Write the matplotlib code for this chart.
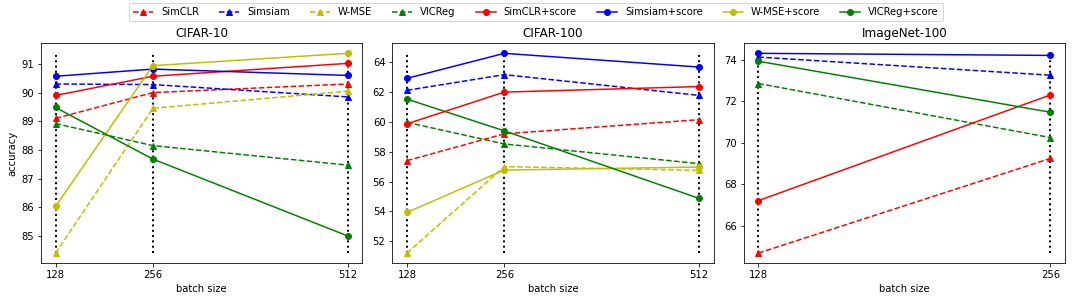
import numpy as np
from matplotlib import pyplot as plt

methods = ['SimCLR', 'Simsiam', 'W-MSE', 'VICReg']
colors = ['r', 'b', 'y', 'g']

batch_c10 = [128, 256, 512]
c10_base = {
    'SimCLR': [89.1, 90.0, 90.3],
    'Simsiam': [90.3, 90.28, 89.85],
    'W-MSE': [84.4, 89.45, 90.05],
    'VICReg': [88.92, 88.15, 87.47],
}
c10_score = {
    'SimCLR': [89.9, 90.57, 91.02],
    'Simsiam': [90.57, 90.82, 90.6],
    'W-MSE': [86.03, 90.94, 91.37],
    'VICReg': [89.48, 87.68, 85.0],
}

batch_c100 = [128, 256, 512]
c100_base = {
    'SimCLR': [57.4, 59.2, 60.15],
    'Simsiam': [62.12, 63.17, 61.78],
    'W-MSE': [51.2, 57.0, 56.75],
    'VICReg': [59.97, 58.52, 57.2],
}
c100_score = {
    'SimCLR': [59.87, 62.0, 62.37],
    'Simsiam': [62.92, 64.6, 63.68],
    'W-MSE': [53.93, 56.77, 56.97],
    'VICReg': [61.53, 59.4, 54.87],
}

batch_in100 = [128, 256]
in100_base = {
    'SimCLR': [64.7, 69.25],
    'Simsiam': [74.12, 73.25],
    'VICReg': [72.85, 70.25],
}
in100_score = {
    'SimCLR': [67.22, 72.3],
    'Simsiam': [74.3, 74.2],
    'VICReg': [73.92, 71.47],
}

panels = [
    ('CIFAR-10', batch_c10, c10_base, c10_score),
    ('CIFAR-100', batch_c100, c100_base, c100_score),
    ('ImageNet-100', batch_in100, in100_base, in100_score),
]

fig, axes = plt.subplots(1, 3, figsize=(1072 / 72, 301 / 72), dpi=72)

for ax, (title, bs, base, score) in zip(axes, panels):
    allv = [v for d in (base, score) for vals in d.values() for v in vals]
    ax.vlines(bs, min(allv), max(allv), colors='k', linestyles='dotted', linewidth=2)
    for m, c in zip(methods, colors):
        if m in base:
            ax.plot(bs, base[m], '--^', color=c, label=m)
    for m, c in zip(methods, colors):
        if m in score:
            ax.plot(bs, score[m], '-o', color=c, label=m + '+score')
    ax.set_xticks(bs)
    ax.set_title(title)
    ax.set_xlabel('batch size')

axes[0].set_ylabel('accuracy')

handles, labels = axes[0].get_legend_handles_labels()
fig.legend(handles, labels, loc='upper center', ncol=8, bbox_to_anchor=(0.5, 1.005))
fig.subplots_adjust(left=0.0382, right=0.9935, top=0.856, bottom=0.126, wspace=0.094)
fig.savefig('out.png')
